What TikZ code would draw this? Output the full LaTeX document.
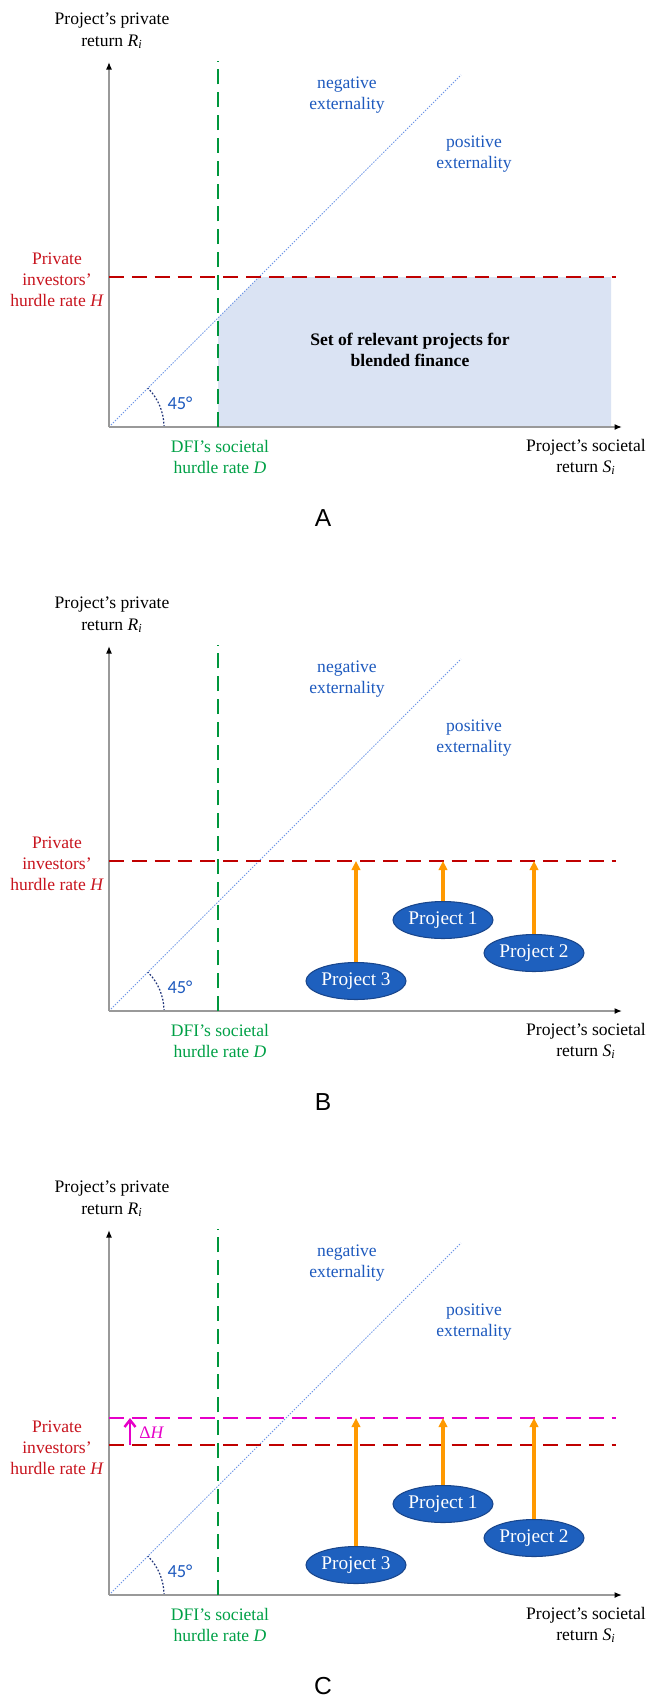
\documentclass[tikz,border=0pt]{standalone}
\usepackage{fontspec}
\setmainfont{Liberation Serif}
\newfontfamily\fontarial{Liberation Sans}
\newfontfamily\fontcalibri{Carlito}
\usetikzlibrary{positioning,arrows.meta,calc,shapes.geometric}
\definecolor{rosu}{RGB}{192,0,0}
\definecolor{rosutext}{RGB}{200,20,30}
\definecolor{verde}{RGB}{0,150,60}
\definecolor{verdetext}{RGB}{0,160,70}
\definecolor{albastru}{RGB}{30,90,190}
\definecolor{diagcol}{RGB}{110,150,230}
\definecolor{arccol}{RGB}{30,50,120}
\definecolor{umplere}{RGB}{218,227,243}
\definecolor{proiectcol}{RGB}{30,96,190}
\definecolor{proiectmargine}{RGB}{25,70,140}
\definecolor{portocaliu}{RGB}{255,153,0}
\definecolor{magentadh}{RGB}{230,0,200}
\newcommand{\varind}[2]{\textit{#1}\textsubscript{\textit{#2}}}
\tikzset{
  axa/.style       = {draw=black!40, line width=0.8pt,
                      -{Latex[length=1.5mm,width=1.2mm,color=black]}},
  pragrosu/.style  = {draw=rosu, line width=1.6pt, dash pattern=on 8.5pt off 4.5pt},
  pragverde/.style = {draw=verde, line width=1.6pt, dash pattern=on 8.5pt off 4.5pt},
  pragmag/.style   = {draw=magentadh, line width=1.4pt, dash pattern=on 8.5pt off 4.5pt},
  diag/.style      = {draw=diagcol, line width=0.5pt, dash pattern=on 0.8pt off 0.8pt},
  arcdiag/.style   = {draw=arccol, line width=0.7pt, dash pattern=on 1pt off 1pt},
  eticheta/.style  = {align=center, inner sep=0pt},
  unghi/.style     = {font=\fontcalibri\fontsize{10.5}{12}\selectfont, text=albastru, inner sep=0pt},
  litera/.style    = {font=\fontarial\fontsize{14}{16}\selectfont, inner sep=0pt},
  proiect/.style   = {ellipse, draw=proiectmargine, line width=0.6pt, fill=proiectcol,
                      text=white, minimum width=20mm, minimum height=7.4mm, inner sep=0pt,
                      font=\fontsize{11}{13}\selectfont},
  sageata/.style   = {draw=portocaliu, line width=1.8pt, -{Triangle[length=1.8mm,width=1.7mm]}},
  sagetamag/.style = {draw=magentadh, line width=1.4pt, -{Straight Barb[length=1.4mm,width=2.2mm]}}
}

\begin{document}
\begin{tikzpicture}[x=0.2mm, y=0.2mm, font=\fontsize{10}{12}\selectfont]
    \useasboundingbox (0,0) rectangle (646,-1698);

    % zona de proiecte relevante (A)
    \begin{scope}[shift={(109,-427)}]
        \fill[umplere] (109,0) -- (109,109) -- (150,150) -- (502,150) -- (502,0) -- cycle;
        \node[eticheta, font=\bfseries\fontsize{10}{12}\selectfont] (setA) at (301,77)
            {Set of relevant projects for\\ blended finance};
    \end{scope}

    % axe, praguri si etichete comune
    \foreach \p/\nume in {0/A,1/B,2/C}{
        \begin{scope}[shift={(109,{-427-584*\p})}]
            \coordinate (o\nume) at (0,0);
            \coordinate (vy\nume) at (0,365);
            \coordinate (vx\nume) at (513,0);
            \coordinate (d\nume) at (352,352);
            \coordinate (gjos\nume) at (109,0);
            \coordinate (gsus\nume) at (109,366);
            \coordinate (h\nume) at (0,150);
            \coordinate (hdr\nume) at (507,150);
            \draw[diag] (o\nume) -- (d\nume);
            \draw[arcdiag] (55,0) arc[start angle=0, end angle=45, radius=55];
            \node[unghi] (u\nume) at (71,24) {45°};
            \draw[axa] (o\nume) -- (vy\nume);
            \draw[axa] (o\nume) -- (vx\nume);
            \draw[pragverde] (gjos\nume) -- (gsus\nume);
            \draw[pragrosu] (h\nume) -- (hdr\nume);
            \node[eticheta] (ry\nume) at (3,396) {Project’s private\\ return \varind{R}{i}};
            \node[eticheta, text=rosutext] (hl\nume) at (-52,147)
                {Private\\ investors’\\ hurdle rate \textit{H}};
            \node[eticheta, text=verdetext] (dl\nume) at (111,-30)
                {DFI’s societal\\ hurdle rate \textit{D}};
            \node[eticheta] (sx\nume) at (477,-30) {Project’s societal\\ return \varind{S}{i}};
            \node[eticheta, text=albastru] (neg\nume) at (238,332) {negative\\ externality};
            \node[eticheta, text=albastru] (poz\nume) at (365,273) {positive\\ externality};
            \node[litera] (lit\nume) at (214,-91) {\nume};
        \end{scope}
    }

    % proiecte (B)
    \begin{scope}[shift={(109,-1011)}]
        \node[proiect] (p3B) at (247,30) {Project 3};
        \node[proiect] (p1B) at (334,91) {Project 1};
        \node[proiect] (p2B) at (425,58) {Project 2};
    \end{scope}
    \draw[sageata] (p3B.north) -- (p3B.north |- hB);
    \draw[sageata] (p1B.north) -- (p1B.north |- hB);
    \draw[sageata] (p2B.north) -- (p2B.north |- hB);

    % proiecte si prag nou (C)
    \begin{scope}[shift={(109,-1595)}]
        \coordinate (hnouC) at (0,177);
        \coordinate (hnoudrC) at (507,177);
        \coordinate (dhjos) at (21,150);
        \coordinate (dhsus) at (21,177);
        \node[proiect] (p3C) at (247,30) {Project 3};
        \node[proiect] (p1C) at (334,91) {Project 1};
        \node[proiect] (p2C) at (425,57) {Project 2};
        \node[eticheta, anchor=west, text=magentadh] (dhl) at (30,162) {Δ\textit{H}};
    \end{scope}
    \draw[pragmag] (hnouC) -- (hnoudrC);
    \draw[sagetamag] (dhjos) -- (dhsus);
    \draw[sageata] (p3C.north) -- (p3C.north |- hnouC);
    \draw[sageata] (p1C.north) -- (p1C.north |- hnouC);
    \draw[sageata] (p2C.north) -- (p2C.north |- hnouC);
\end{tikzpicture}
\end{document}
